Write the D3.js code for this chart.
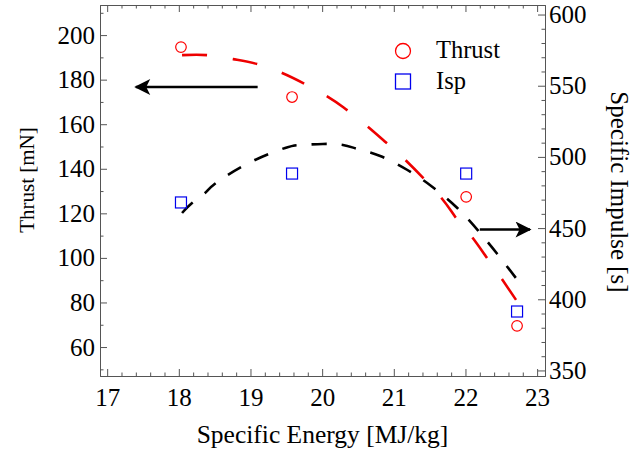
<!DOCTYPE html>
<html>
<head>
<meta charset="utf-8">
<script src="https://cdn.jsdelivr.net/npm/d3@7"></script>
<style>
  body { margin: 0; background: #fff; }
  text { font-family: "Liberation Serif", "Times New Roman", serif; }
</style>
</head>
<body>
<div id="chart"></div>
<script>
// measured points
const energy = [18.03, 19.58, 22.01, 22.72];
const thrust = [194.6, 172.2, 127.4, 69.5];
const isp = [468, 488.3, 488.3, 391.4];

// fitted curves
const thrustFitX = [18.045, 18.394, 18.758, 19.093, 19.442, 19.763, 20.3, 20.866, 21.118, 21.607, 21.858, 22.068, 22.291, 22.487, 22.724];
const thrustFitY = [191.0, 191.0, 189.2, 187.0, 183.0, 178.0, 167.5, 152.5, 145.3, 129.1, 118.4, 110.3, 100.4, 91.5, 80.3];
const ispFitX = [18.045, 18.185, 18.366, 18.52, 19.0, 19.484, 19.693, 20.01, 20.29, 20.5, 20.81, 21.19, 21.54, 21.886, 22.18, 22.445, 22.724];
const ispFitY = [460.6, 467.6, 474.6, 481.7, 496.3, 506.3, 508.4, 509.1, 508.4, 505.5, 500.6, 490.8, 478.9, 464.1, 448.0, 431.8, 413.6];

const xTicks = [17, 18, 19, 20, 21, 22, 23];
const thrustTicks = [60, 80, 100, 120, 140, 160, 180, 200];
const ispTicks = [350, 400, 450, 500, 550, 600];

// arrows: [x from, x to, y]
const thrustArrow = [19.1, 17.4, 176.7];
const ispArrow = [22.2, 22.9, 449];

const width = 642;
const height = 454;
const plotLeft = 100, plotRight = 545, plotTop = 5, plotBottom = 376;
const frameColor = "#555";

const svg = d3.select("#chart")
  .append("svg")
  .attr("width", width)
  .attr("height", height);

const x = d3.scaleLinear().domain([16.9, 23.11]).range([plotLeft, plotRight]);
const yT = d3.scaleLinear().domain([47, 213.5]).range([plotBottom, plotTop]);
const yI = d3.scaleLinear().domain([346.1, 606.7]).range([plotBottom, plotTop]);

const minorX = d3.range(170, 232, 2).map(d => d / 10).filter(d => !xTicks.includes(d));
const minorT = d3.range(50, 220, 10).filter(d => !thrustTicks.includes(d));
const minorI = d3.range(350, 610, 10).filter(d => !ispTicks.includes(d));

function styleAxis(g, size) {
  g.select(".domain").attr("stroke", frameColor).attr("stroke-width", 1);
  g.selectAll(".tick line").attr("stroke", frameColor).attr("stroke-width", 1);
  g.selectAll(".tick text")
    .attr("fill", "#000")
    .style("font-family", "'Liberation Serif', serif")
    .style("font-size", size + "px");
}

//Bottom
svg.append("g")
  .attr("transform", `translate(0,${plotBottom})`)
  .call(d3.axisBottom(x).tickValues(xTicks).tickSizeInner(-7).tickSizeOuter(0).tickPadding(12).tickFormat(d3.format("d")))
  .call(g => styleAxis(g, 25));
svg.append("g")
  .attr("transform", `translate(0,${plotBottom})`)
  .call(d3.axisBottom(x).tickValues(minorX).tickSizeInner(-3.5).tickSizeOuter(0).tickFormat(""))
  .call(g => styleAxis(g, 25));

//Top
svg.append("g")
  .attr("transform", `translate(0,${plotTop})`)
  .call(d3.axisTop(x).tickValues(xTicks).tickSizeInner(-7).tickSizeOuter(0).tickFormat(""))
  .call(g => styleAxis(g, 25));
svg.append("g")
  .attr("transform", `translate(0,${plotTop})`)
  .call(d3.axisTop(x).tickValues(minorX).tickSizeInner(-3.5).tickSizeOuter(0).tickFormat(""))
  .call(g => styleAxis(g, 25));

//Left (thrust)
svg.append("g")
  .attr("transform", `translate(${plotLeft},0)`)
  .call(d3.axisLeft(yT).tickValues(thrustTicks).tickSizeInner(-7).tickSizeOuter(0).tickPadding(5))
  .call(g => styleAxis(g, 25));
svg.append("g")
  .attr("transform", `translate(${plotLeft},0)`)
  .call(d3.axisLeft(yT).tickValues(minorT).tickSizeInner(-3.5).tickSizeOuter(0).tickFormat(""))
  .call(g => styleAxis(g, 25));

//Right (Isp)
svg.append("g")
  .attr("transform", `translate(${plotRight},0)`)
  .call(d3.axisRight(yI).tickValues(ispTicks).tickSizeInner(-7).tickSizeOuter(0).tickPadding(4))
  .call(g => styleAxis(g, 25));
svg.append("g")
  .attr("transform", `translate(${plotRight},0)`)
  .call(d3.axisRight(yI).tickValues(minorI).tickSizeInner(-3.5).tickSizeOuter(0).tickFormat(""))
  .call(g => styleAxis(g, 25));

//Axis titles
svg.append("text")
  .attr("x", (plotLeft + plotRight) / 2)
  .attr("y", 443)
  .attr("text-anchor", "middle")
  .style("font-size", "25.5px")
  .text("Specific Energy [MJ/kg]");

svg.append("text")
  .attr("transform", "translate(34,180) rotate(-90)")
  .attr("text-anchor", "middle")
  .style("font-size", "21px")
  .text("Thrust [mN]");

svg.append("text")
  .attr("transform", "translate(611,192) rotate(90)")
  .attr("text-anchor", "middle")
  .style("font-size", "25px")
  .text("Specific Impulse [s]");

//Fit lines
const thrustLine = d3.line()
  .x(d => x(d[0]))
  .y(d => yT(d[1]))
  .curve(d3.curveNatural);
const ispLine = d3.line()
  .x(d => x(d[0]))
  .y(d => yI(d[1]))
  .curve(d3.curveNatural);

svg.append("path")
  .datum(thrustFitX.map((d, i) => [d, thrustFitY[i]]))
  .attr("d", thrustLine)
  .attr("fill", "none")
  .attr("stroke", "#ee0000")
  .attr("stroke-width", 2.6)
  .attr("stroke-dasharray", "25,26");

svg.append("path")
  .datum(ispFitX.map((d, i) => [d, ispFitY[i]]))
  .attr("d", ispLine)
  .attr("fill", "none")
  .attr("stroke", "#000")
  .attr("stroke-width", 2.6)
  .attr("stroke-dasharray", "15,15");

//Points
svg.selectAll(".thrust")
  .data(energy)
  .enter()
  .append("circle")
  .attr("cx", d => x(d))
  .attr("cy", (d, i) => yT(thrust[i]))
  .attr("r", 5.3)
  .attr("fill", "none")
  .attr("stroke", "#ff0000")
  .attr("stroke-width", 1.2);

svg.selectAll(".isp")
  .data(energy)
  .enter()
  .append("rect")
  .attr("x", d => x(d) - 5.5)
  .attr("y", (d, i) => yI(isp[i]) - 5.5)
  .attr("width", 11)
  .attr("height", 11)
  .attr("fill", "none")
  .attr("stroke", "#0000ee")
  .attr("stroke-width", 1.2);

//Arrows
svg.append("defs")
  .append("marker")
  .attr("id", "head")
  .attr("viewBox", "0 0 10 10")
  .attr("refX", 9)
  .attr("refY", 5)
  .attr("markerUnits", "userSpaceOnUse")
  .attr("markerWidth", 29)
  .attr("markerHeight", 16)
  .attr("orient", "auto")
  .append("path")
  .attr("d", "M0,0 L10,5 L0,10 L2.5,5 Z")
  .attr("fill", "#000");

svg.append("line")
  .attr("x1", x(thrustArrow[0]))
  .attr("x2", x(thrustArrow[1]))
  .attr("y1", yT(thrustArrow[2]))
  .attr("y2", yT(thrustArrow[2]))
  .attr("stroke", "#000")
  .attr("stroke-width", 2.4)
  .attr("marker-end", "url(#head)");

svg.append("line")
  .attr("x1", x(ispArrow[0]))
  .attr("x2", x(ispArrow[1]))
  .attr("y1", yI(ispArrow[2]))
  .attr("y2", yI(ispArrow[2]))
  .attr("stroke", "#000")
  .attr("stroke-width", 2.4)
  .attr("marker-end", "url(#head)");

//Legend
const legend = svg.append("g").attr("transform", "translate(403,0)");
legend.append("circle")
  .attr("cx", 0).attr("cy", 51).attr("r", 7.5)
  .attr("fill", "none").attr("stroke", "#ff0000").attr("stroke-width", 1.3);
legend.append("text")
  .attr("x", 33).attr("y", 58)
  .style("font-size", "24.5px")
  .text("Thrust");
legend.append("rect")
  .attr("x", -7.5).attr("y", 74).attr("width", 15).attr("height", 15)
  .attr("fill", "none").attr("stroke", "#0000ee").attr("stroke-width", 1.3);
legend.append("text")
  .attr("x", 33).attr("y", 89)
  .style("font-size", "24.5px")
  .text("Isp");
</script>
</body>
</html>
